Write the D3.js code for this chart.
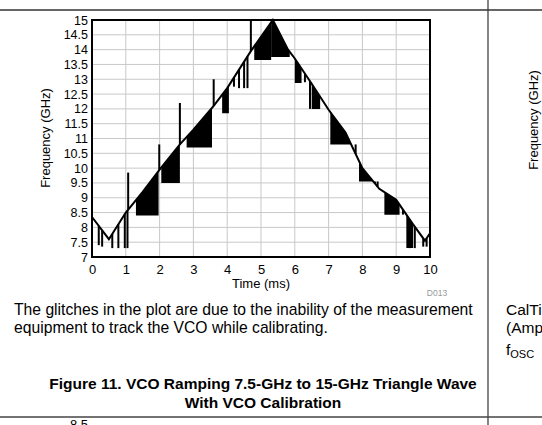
<!DOCTYPE html>
<html><head><meta charset="utf-8">
<script src="https://cdn.jsdelivr.net/npm/d3@7"></script>
<style>body{margin:0;background:#fff}svg{display:block}text{font-family:"Liberation Sans",Arial,sans-serif}</style>
</head><body>
<svg id="c" width="542" height="425"></svg>
<script>
const xTicks=[0,1,2,3,4,5,6,7,8,9,10];
const yTicks=[7,7.5,8,8.5,9,9.5,10,10.5,11,11.5,12,12.5,13,13.5,14,14.5,15];
// main ramp curve [time ms, GHz]
const curveT=[0,0.5,1,1.5,2,2.6,3,3.6,4,4.7,5.35,5.8,6,6.5,7,7.5,8,8.5,9,9.5,9.85,10];
const curveF=[8.35,7.6,8.5,9.2,9.95,10.8,11.3,12.1,12.7,13.95,15,14.0,13.7,12.85,11.97,11.2,10.0,9.3,8.93,8.1,7.55,7.8];
// dense glitch clusters: start, end, lowest GHz
const clusterStart=[1.3,2.05,2.8,3.85,4.8,5.3,6.0,6.5,7.05,7.9,8.65,9.3];
const clusterEnd=[1.97,2.6,3.55,4.05,5.3,5.85,6.2,6.75,7.65,8.4,9.1,9.5];
const clusterLow=[8.4,9.5,10.7,11.85,13.65,13.75,12.87,12.0,10.8,9.55,8.43,7.3];
// isolated glitch lines: time, end GHz
const glitchT=[0.2,0.3,0.6,0.78,0.97,1.05,1.07,1.99,2.6,3.6,4.2,4.35,4.5,4.6,4.7,6.3,6.45,7.8,8.45,9.2,9.4,9.55,9.8,9.9];
const glitchF=[7.4,7.35,7.3,7.3,7.3,7.3,9.85,10.8,12.2,13.0,12.75,12.7,12.7,12.7,15,12.9,12.0,10.8,9.55,8.43,7.3,7.3,7.35,7.35];

const svg=d3.select("#c");
const x=d3.scaleLinear().domain([0,10]).range([92,430]);
const y=d3.scaleLinear().domain([7,15]).range([257,20]);
const fAt=d3.scaleLinear().domain(curveT).range(curveF);

svg.append("line").attr("x1",0).attr("x2",542).attr("y1",10).attr("y2",10).attr("stroke","#333").attr("stroke-width",1.5);
svg.append("line").attr("x1",488).attr("x2",488).attr("y1",0).attr("y2",425).attr("stroke","#333").attr("stroke-width",1.2);
svg.append("line").attr("x1",0).attr("x2",542).attr("y1",417).attr("y2",417).attr("stroke","#444").attr("stroke-width",1.5);

svg.append("g").selectAll("line").data(xTicks).join("line")
 .attr("x1",d=>x(d)).attr("x2",d=>x(d)).attr("y1",20).attr("y2",257).attr("stroke","#c8c8c8");
svg.append("g").selectAll("line").data(yTicks).join("line")
 .attr("x1",92).attr("x2",430).attr("y1",d=>y(d)).attr("y2",d=>y(d)).attr("stroke","#c8c8c8");

const g=svg.append("g");
clusterStart.forEach((s,i)=>{
  const e=clusterEnd[i], lo=clusterLow[i];
  const ts=curveT.filter(t=>t>s&&t<e);
  const pts=[s,...ts,e].map(t=>[x(t),y(fAt(t))]);
  pts.push([x(e),y(lo)],[x(s),y(lo)]);
  g.append("path").attr("d",d3.line()(pts)+"Z").attr("fill","#000");
});
g.selectAll("line.gl").data(glitchT).join("line")
 .attr("x1",d=>x(d)).attr("x2",d=>x(d)).attr("y1",d=>y(fAt(d))).attr("y2",(d,i)=>y(glitchF[i]))
 .attr("stroke","#000").attr("stroke-width",2);
g.append("path").datum(curveT.map((t,i)=>[t,curveF[i]]))
 .attr("d",d3.line().x(d=>x(d[0])).y(d=>y(d[1]))).attr("fill","none").attr("stroke","#000").attr("stroke-width",2);

svg.append("rect").attr("x",92).attr("y",20).attr("width",338).attr("height",237).attr("fill","none").attr("stroke","#000").attr("stroke-width",2);

const xa=svg.append("g").attr("transform","translate(0,257)").call(d3.axisBottom(x).tickValues(xTicks).tickFormat(d=>d).tickSize(0).tickPadding(8));
const ya=svg.append("g").attr("transform","translate(92,0)").call(d3.axisLeft(y).tickValues(yTicks).tickFormat(d=>d).tickSize(0).tickPadding(4));
[xa,ya].forEach(a=>{a.select(".domain").remove();a.selectAll("text").attr("font-size",13).attr("fill","#000").attr("font-family","Liberation Sans,Arial");});
ya.selectAll("text").attr("font-size",12.5);

svg.append("text").attr("x",261).attr("y",288).attr("text-anchor","middle").attr("font-size",13).text("Time (ms)");
svg.append("text").attr("transform","translate(50,138) rotate(-90)").attr("text-anchor","middle").attr("font-size",13).text("Frequency (GHz)");
svg.append("text").attr("x",437).attr("y",296).attr("text-anchor","middle").attr("font-size",8.5).attr("fill","#999").text("D013");

svg.append("text").attr("x",14).attr("y",315).attr("font-size",15.7).text("The glitches in the plot are due to the inability of the measurement");
svg.append("text").attr("x",14).attr("y",333).attr("font-size",15.7).text("equipment to track the VCO while calibrating.");
svg.append("text").attr("x",263).attr("y",389).attr("text-anchor","middle").attr("font-size",15.5).attr("font-weight","bold").text("Figure 11. VCO Ramping 7.5-GHz to 15-GHz Triangle Wave");
svg.append("text").attr("x",263).attr("y",408).attr("text-anchor","middle").attr("font-size",15.5).attr("font-weight","bold").text("With VCO Calibration");

svg.append("text").attr("x",506).attr("y",315).attr("font-size",15.5).text("CalTi");
svg.append("text").attr("x",506).attr("y",333).attr("font-size",15.5).text("(Amp");
const fo=svg.append("text").attr("x",506).attr("y",355).attr("font-size",15.5);
fo.append("tspan").text("f");fo.append("tspan").attr("font-size",11).attr("dy",3).text("OSC");
svg.append("text").attr("transform","translate(538,120) rotate(-90)").attr("text-anchor","middle").attr("font-size",13).text("Frequency (GHz)");
svg.append("text").attr("x",70).attr("y",429).attr("font-size",13).text("8.5");
</script>
</body></html>
